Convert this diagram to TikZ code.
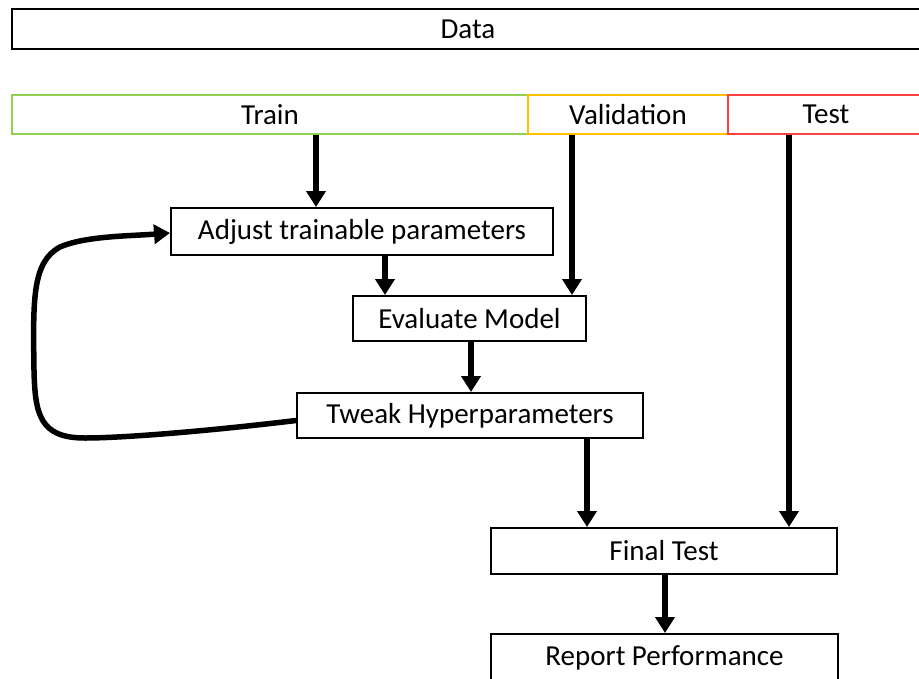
\documentclass[tikz,border=0pt]{standalone}
\usepackage{fontspec}
\setmainfont{Carlito}
\usetikzlibrary{arrows.meta}
\definecolor{trainc}{HTML}{92D050}
\definecolor{valc}{HTML}{FFC000}
\definecolor{testc}{HTML}{FF4040}
\tikzset{
  box/.style={draw=black, line width=2pt, rectangle, inner sep=0pt, fill=white,
    font=\fontsize{29}{34}\selectfont},
  part/.style={box, line width=1.6pt},
  arr/.style={line width=5.5pt, -{Triangle[width=19pt,length=16pt]}},
}
\begin{document}
\begin{tikzpicture}[x=1pt,y=-1pt]
\useasboundingbox (0,0) rectangle (919,678);
\clip (0,0) rectangle (919,678);
\fill[white] (0,0) rectangle (919,678);

% data and its three parts
\node[box, minimum width=912pt, minimum height=40pt] (data) at (468,29) {Data};
\node[part, draw=trainc, minimum width=516pt, minimum height=39pt] (train) at (270,114.5) {Train};
\node[part, draw=valc, minimum width=200pt, minimum height=39pt] (val) at (628,114.5) {Validation};
\node[part, draw=testc, minimum width=196pt, minimum height=39pt] (test) at (826,114.5) {Test};

% process steps
\node[box, minimum width=382pt, minimum height=47pt] (adjust) at (362,231.5) {Adjust trainable parameters};
\node[box, minimum width=233pt, minimum height=45pt] (eval) at (469.5,318.5) {Evaluate Model};
\node[box, minimum width=346pt, minimum height=45pt] (tweak) at (470,415.5) {Tweak Hyperparameters};
\node[box, minimum width=346pt, minimum height=46pt] (final) at (664,551) {Final Test};
\node[box, minimum width=347pt, minimum height=48pt] (report) at (664.5,658) {Report Performance};

% connectors
\draw[arr] (train.south -| 316,0) -- (adjust.north -| 316,0);
\draw[arr] (val.south -| 572,0) -- (eval.north -| 572,0);
\draw[arr] (adjust.south -| 385,0) -- (eval.north -| 385,0);
\draw[arr] (eval.south -| 471,0) -- (tweak.north -| 471,0);
\draw[arr] (tweak.south -| 587,0) -- (final.north -| 587,0);
\draw[arr] (test.south -| 789,0) -- (final.north -| 789,0);
\draw[arr] (final.south -| 665,0) -- (report.north -| 665,0);

% feedback loop
\draw[arr] ([yshift=-5pt]tweak.west) .. controls (200,432) and (120,438) .. (85,438)
  .. controls (40,438) and (35,415) .. (34,370)
  .. controls (33,300) and (32,262) .. (60,247)
  .. controls (85,236) and (130,236) .. ([yshift=-1.5pt]adjust.west);
\end{tikzpicture}
\end{document}
